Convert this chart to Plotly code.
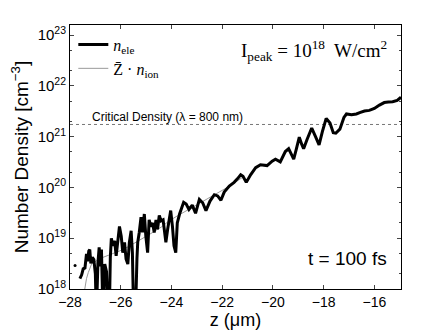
import plotly.graph_objects as go

# electron density (thick black)
z_ele = [-27.61, -27.54, -27.48, -27.41, -27.35, -27.31, -27.26, -27.22, -27.18, -27.12,
         -27.06, -27.00, -26.96, -26.90, -26.85, -26.80, -26.76, -26.70, -26.63, -26.56,
         -26.50, -26.45, -26.41, -26.37, -26.31, -26.24, -26.18, -26.11, -26.05, -25.98,
         -25.92, -25.85, -25.79, -25.72, -25.66, -25.59, -25.54, -25.49, -25.42, -25.36,
         -25.33, -25.27, -25.20, -25.14, -25.07, -25.01, -24.94, -24.88, -24.81, -24.74,
         -24.68, -24.61, -24.55, -24.48, -24.41, -24.33, -24.22, -24.15, -24.03, -23.96,
         -23.90, -23.83, -23.77, -23.68, -23.60, -23.52, -23.42, -23.31, -23.18, -23.05,
         -22.90, -22.77, -22.64, -22.48, -22.31, -22.18, -22.05, -21.92, -21.72, -21.53,
         -21.40, -21.27, -21.18, -21.05, -20.88, -20.68, -20.49, -20.36, -20.23, -20.03,
         -19.90, -19.71, -19.60, -19.51, -19.38, -19.28, -19.18, -19.08, -18.96, -18.87,
         -18.79, -18.65, -18.47, -18.32, -18.18, -18.05, -17.90, -17.75, -17.62, -17.52,
         -17.36, -17.20, -17.10, -16.90, -16.71, -16.55, -16.39, -16.20, -16.00, -15.80,
         -15.61, -15.45, -15.28, -15.10, -14.95]
n_ele = [1.6e18, 1.9e18, 2.5e18, 2.6e18, 4.9e18, 3.5e18, 5.6e18, 6.0e18, 3.2e18, 4.2e18,
         3.8e18, 2.0e18, 3e17, 3.2e18, 6.6e18, 2.8e18, 6.0e18, 3e17, 3.1e18, 2.2e18,
         3e17, 3e17, 4.2e18, 1.0e19, 7.1e18, 8.9e18, 4.5e18, 8.3e18, 1.7e19, 1.1e19,
         5.2e18, 8.3e18, 3.9e18, 3.1e18, 8.3e18, 1.4e19, 5.2e18, 3e17, 3e17, 4.0e18,
         8.3e18, 1.3e19, 2.6e19, 1.3e19, 3.0e19, 1.1e19, 5.2e18, 2.3e19, 1.7e19, 2.0e19,
         1.3e19, 2.3e19, 1.5e19, 2.8e19, 2.2e19, 2.3e19, 8.3e18, 1.5e19, 3.5e19, 1.7e19,
         7.1e18, 5.2e18, 2.0e19, 3.0e19, 4.0e19, 5.1e19, 4.7e19, 3.7e19, 4.5e19, 3.1e19,
         5.8e19, 5.0e19, 3.5e19, 5.4e19, 7.2e19, 6.8e19, 5.6e19, 8.1e19, 1.07e20, 1.26e20,
         1.48e20, 1.78e20, 1.66e20, 1.26e20, 1.78e20, 2.45e20, 2.8e20, 2.75e20, 2.7e20, 3.3e20,
         3.6e20, 3.2e20, 4.2e20, 5.1e20, 5.8e20, 4.6e20, 3.6e20, 5.6e20, 9.8e20, 7.2e20,
         5.8e20, 8.9e20, 1.48e21, 1.0e21, 6.9e20, 1.26e21, 2.3e21, 1.86e21, 1.2e21, 1.17e21,
         1.41e21, 2.4e21, 2.8e21, 2.7e21, 2.8e21, 3.0e21, 3.2e21, 3.3e21, 3.6e21, 4.2e21,
         4.7e21, 4.8e21, 4.9e21, 5.2e21, 6.0e21]

# isolated point left of the main curve
z_dot = [-27.80]
n_dot = [2.9e18]

# Zbar * n_ion (thin gray)
z_ion = [-27.45, -27.35, -27.28, -27.15, -26.96, -26.70, -26.40, -26.05, -25.70, -25.40,
         -25.05, -24.74, -24.40, -24.09, -23.77, -23.40, -23.00, -22.60, -22.20, -21.80,
         -21.40, -21.20, -21.05, -20.88, -20.68, -20.49, -20.36, -20.23, -20.03,
         -19.90, -19.71, -19.60, -19.51, -19.38, -19.28, -19.18, -19.08, -18.96, -18.87,
         -18.79, -18.65, -18.47, -18.32, -18.18, -18.05, -17.90, -17.75, -17.62, -17.52,
         -17.36, -17.20, -17.10, -16.90, -16.71, -16.55, -16.39, -16.20, -16.00, -15.80,
         -15.61, -15.45, -15.28, -15.10, -14.95]
n_ion = [7.9e17, 1.6e18, 2.1e18, 3.1e18, 3.6e18, 4.2e18, 4.8e18, 5.6e18, 6.8e18, 8.3e18,
         1.02e19, 1.3e19, 1.66e19, 2.2e19, 2.75e19, 3.5e19, 4.6e19, 5.9e19, 7.6e19, 1.0e20,
         1.35e20, 1.58e20, 1.38e20, 1.78e20, 2.4e20, 2.75e20, 2.75e20, 2.7e20, 3.3e20,
         3.6e20, 3.2e20, 4.2e20, 5.1e20, 5.8e20, 4.6e20, 3.6e20, 5.6e20, 9.8e20, 7.2e20,
         5.8e20, 8.9e20, 1.48e21, 1.0e21, 6.9e20, 1.26e21, 2.3e21, 1.86e21, 1.2e21, 1.17e21,
         1.41e21, 2.4e21, 2.8e21, 2.7e21, 2.8e21, 3.0e21, 3.2e21, 3.3e21, 3.6e21, 4.2e21,
         4.7e21, 4.8e21, 4.9e21, 5.2e21, 6.0e21]

n_crit = 1.74e21
x_ticks = [-28, -26, -24, -22, -20, -18, -16]
y_ticks = [1e18, 1e19, 1e20, 1e21, 1e22, 1e23]
y_text = ["10<sup>%d</sup>" % e for e in range(18, 24)]

sans = "Liberation Sans, Arial, sans-serif"
serif = "Liberation Serif, DejaVu Serif, serif"

fig = go.Figure()
fig.add_trace(go.Scatter(x=[-28, -14.95], y=[n_crit, n_crit], mode="lines",
                         line=dict(color="#777", width=1, dash="dot"), showlegend=False))
fig.add_trace(go.Scatter(x=z_ion, y=n_ion, mode="lines",
                         name="Z\u0304 \u00b7 <i>n</i><sub>ion</sub>", legendrank=2,
                         line=dict(color="#999", width=1)))
fig.add_trace(go.Scatter(x=z_ele, y=n_ele, mode="lines", name="<i>n</i><sub>ele</sub>",
                         legendrank=1, line=dict(color="black", width=3)))
fig.add_trace(go.Scatter(x=z_dot, y=n_dot, mode="markers", showlegend=False,
                         marker=dict(color="black", size=3)))

fig.add_annotation(x=-27.2, y=21.22, xref="x", yref="y", text="Critical Density (\u03bb = 800 nm)",
                   showarrow=False, xanchor="left", yanchor="bottom",
                   font=dict(family=sans, size=12, color="black"))
fig.add_annotation(x=0.965, y=0.905, xref="paper", yref="paper",
                   text="I<sub>peak</sub> = 10<sup>18</sup>  W/cm<sup>2</sup>",
                   showarrow=False, xanchor="right", yanchor="middle",
                   font=dict(family=serif, size=19, color="black"))
fig.add_annotation(x=0.965, y=0.115, xref="paper", yref="paper", text="t = 100 fs",
                   showarrow=False, xanchor="right", yanchor="middle",
                   font=dict(family=sans, size=19, color="black"))

fig.update_xaxes(range=[-28, -14.95], tickvals=x_ticks, ticks="inside", ticklen=4,
                 showline=True, linecolor="black", mirror="ticks", showgrid=False,
                 zeroline=False, tickfont=dict(family=sans, size=14, color="black"),
                 title=dict(text="z (\u03bcm)", font=dict(family=sans, size=18, color="black"),
                            standoff=0))
fig.update_yaxes(type="log", range=[18, 23.2], tickvals=y_ticks, ticktext=y_text,
                 ticks="inside", ticklen=4, showline=True, linecolor="black",
                 mirror="ticks", showgrid=False, zeroline=False,
                 minor=dict(ticks="inside", ticklen=2, showgrid=False),
                 tickfont=dict(family=sans, size=15, color="black"),
                 title=dict(text="Number Density [cm<sup>\u22123</sup>]",
                            font=dict(family=sans, size=19, color="black"), standoff=4))

# page body adds an 8 px offset, so the figure is 8 px smaller than the window
fig.update_layout(width=435, height=326, margin=dict(l=57, r=42, t=17, b=44),
                  plot_bgcolor="white", paper_bgcolor="white",
                  legend=dict(x=0.01, y=0.99, xanchor="left", yanchor="top",
                              bgcolor="rgba(0,0,0,0)", tracegroupgap=0,
                              font=dict(family=serif, size=16, color="black")))

fig.write_html("out.html")
